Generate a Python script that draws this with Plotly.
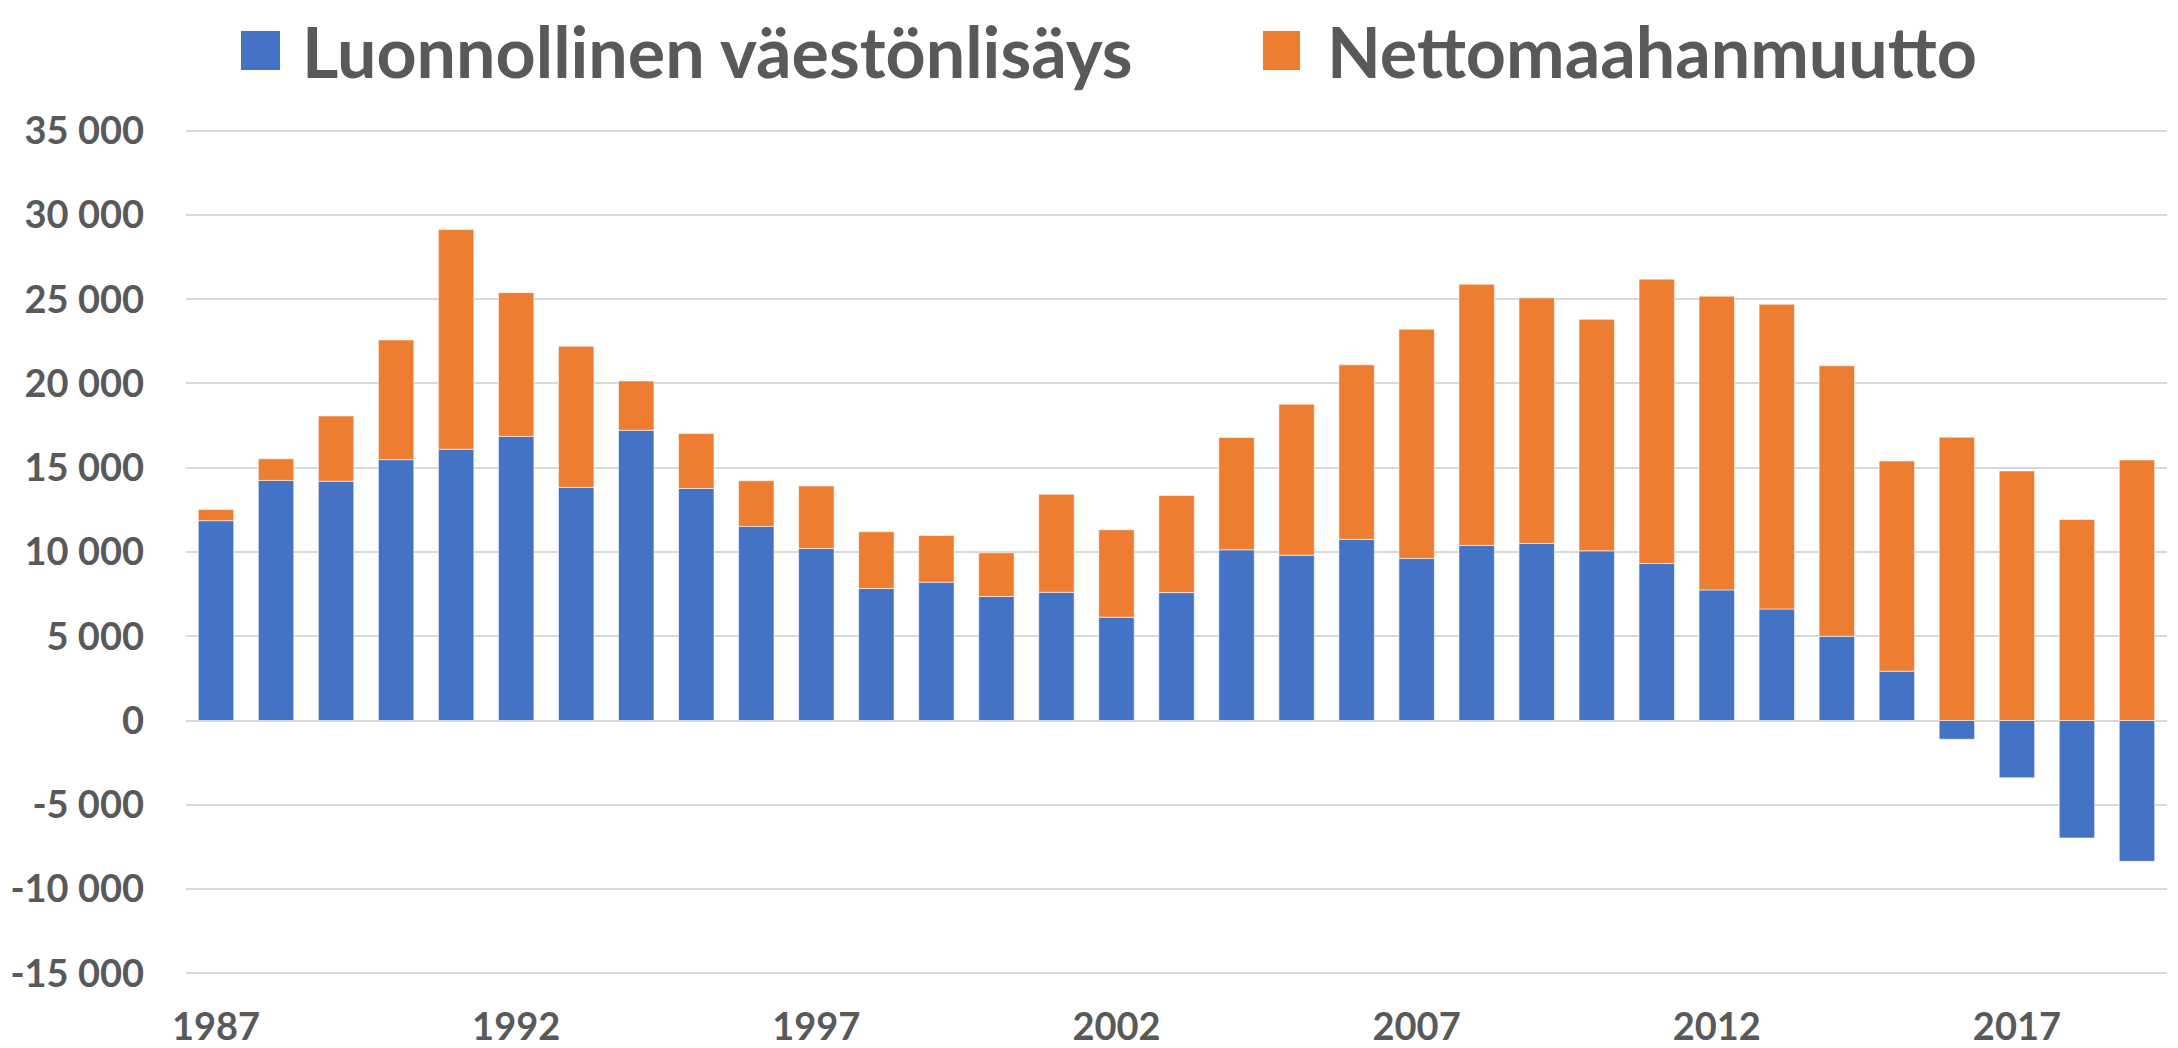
import plotly.graph_objects as go

years = list(range(1987, 2020))
natural_increase = [11860, 14250, 14200, 15480, 16100, 16860, 13830, 17220, 13770, 11520,
                    10210, 7830, 8210, 7360, 7610, 6130, 7590, 10130, 9810, 10750,
                    9620, 10390, 10510, 10070, 9320, 7750, 6620, 5000, 2930, -1110,
                    -3400, -6970, -8350]
net_immigration = [660, 1280, 3870, 7100, 13030, 8530, 8380, 2930, 3260, 2710,
                   3710, 3370, 2770, 2590, 5810, 5190, 5770, 6660, 8960, 10360,
                   13600, 15500, 14570, 13740, 16870, 17430, 18080, 16050, 12470, 16810,
                   14810, 11930, 15460]
series_names = ["Luonnollinen väestönlisäys", "Nettomaahanmuutto"]
series_colors = ["#4472C4", "#ED7D31"]
y_tickvals = [-15000, -10000, -5000, 0, 5000, 10000, 15000, 20000, 25000, 30000, 35000]
y_ticktext = ["-15 000", "-10 000", "-5 000", "0", "5 000", "10 000", "15 000",
              "20 000", "25 000", "30 000", "35 000"]
x_tickvals = [1987, 1992, 1997, 2002, 2007, 2012, 2017]

# page has an 8px body margin; figure is sized to fill the rest of the window
OFF = 8
W, H = 2178 - OFF, 1048 - OFF
L, T = 186 - OFF, 129 - OFF
R, B = 11, 73
PW = W - L - R
PH = H - T - B
TXT = "#595959"
FONT = "Lato, Carlito, Calibri, sans-serif"

fig = go.Figure()
for vals, name, col in zip([natural_increase, net_immigration], series_names, series_colors):
    fig.add_trace(go.Bar(x=years, y=vals, name=name, marker_color=col,
                         marker_line=dict(width=0.8, color="rgba(255,255,255,0.7)")))

def px_x(p):
    return (p - OFF - L) / PW

def px_y(p):
    return (H - B - (p - OFF)) / PH

shapes = []
annotations = []
legend_items = [(241, 280, 300), (1263, 1300, 1325)]
for (x0, x1, tx), name, col in zip(legend_items, series_names, series_colors):
    shapes.append(dict(type="rect", xref="paper", yref="paper",
                       x0=px_x(x0), x1=px_x(x1), y0=px_y(70), y1=px_y(31),
                       fillcolor=col, line=dict(width=0)))
    annotations.append(dict(xref="paper", yref="paper", x=px_x(tx), y=px_y(51),
                            xanchor="left", yanchor="middle", showarrow=False,
                            text=name, font=dict(family=FONT, size=70, color=TXT, weight=700)))

fig.update_layout(
    width=W, height=H,
    margin=dict(l=L, r=R, t=T, b=B, pad=0, autoexpand=False),
    paper_bgcolor="white", plot_bgcolor="white",
    barmode="relative", bargap=0.41,
    showlegend=False,
    shapes=shapes, annotations=annotations,
    font=dict(family=FONT, color=TXT),
)
fig.update_xaxes(range=[1986.5, 2019.5], tickmode="array", tickvals=x_tickvals,
                 automargin=False,
                 showgrid=False, zeroline=False, showline=False, ticks="",
                 ticklabelstandoff=26,
                 tickfont=dict(family=FONT, size=38, color=TXT, weight=700))
fig.update_yaxes(range=[-15100, 35100], tickmode="array", tickvals=y_tickvals,
                 automargin=False,
                 ticktext=y_ticktext, showgrid=True, gridcolor="#D9D9D9", gridwidth=1.5,
                 zeroline=True, zerolinecolor="#D9D9D9", zerolinewidth=1.5,
                 showline=False, ticks="", ticklabelstandoff=41,
                 tickfont=dict(family=FONT, size=38, color=TXT, weight=700))

fig.write_html("out.html")
